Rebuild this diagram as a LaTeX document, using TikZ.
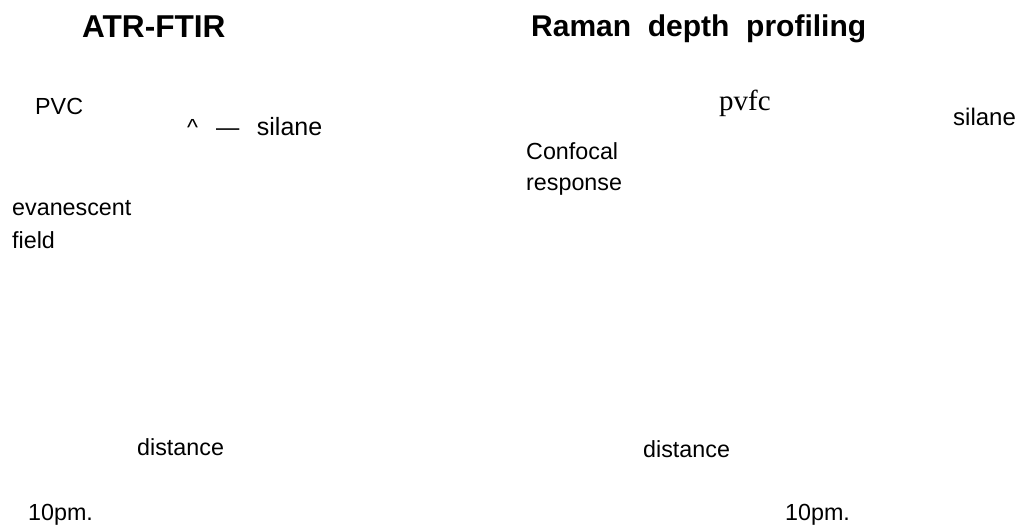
\documentclass[tikz,border=0pt]{standalone}
\usepackage{fontspec}
\setmainfont{Liberation Sans}
\newfontfamily\serifface{Liberation Serif}
\begin{document}
\begin{tikzpicture}[x=1pt,y=-1pt,
  lbl/.style={anchor=base west,inner sep=0pt,font=\fontsize{23.3}{27}\selectfont},
  ttl/.style={anchor=base west,inner sep=0pt,font=\fontsize{30}{34}\selectfont\bfseries}]
\useasboundingbox (0,0) rectangle (1020,526);
\node[ttl,font=\fontsize{31.6}{34}\selectfont\bfseries] (t1) at (82,38) {ATR-FTIR};
\node[ttl] (t2) at (531,37) {Raman\ \ depth\ \ profiling};
\node[lbl] (pvc) at (35,115) {PVC};
\node[lbl] (sil1) at (187,136) {\^{}\hspace{18pt}—\hspace{17.5pt}{\fontsize{25}{28}\selectfont silane}};
\node[lbl] (ev) at (12,216) {evanescent};
\node[lbl] (fi) at (12,249) {field};
\node[lbl] (d1) at (137,455) {distance};
\node[lbl] (u1) at (28,520) {10pm.};
\node[anchor=base west,inner sep=0pt,font=\serifface\fontsize{29}{32}\selectfont] (pvfc) at (719,111) {pvfc};
\node[lbl,font=\fontsize{24}{28}\selectfont] (sil2) at (953,126) {silane};
\node[lbl] (conf) at (526,160) {Confocal};
\node[lbl] (resp) at (526,191) {response};
\node[lbl] (d2) at (643,457) {distance};
\node[lbl] (u2) at (785,520) {10pm.};
\end{tikzpicture}
\end{document}
